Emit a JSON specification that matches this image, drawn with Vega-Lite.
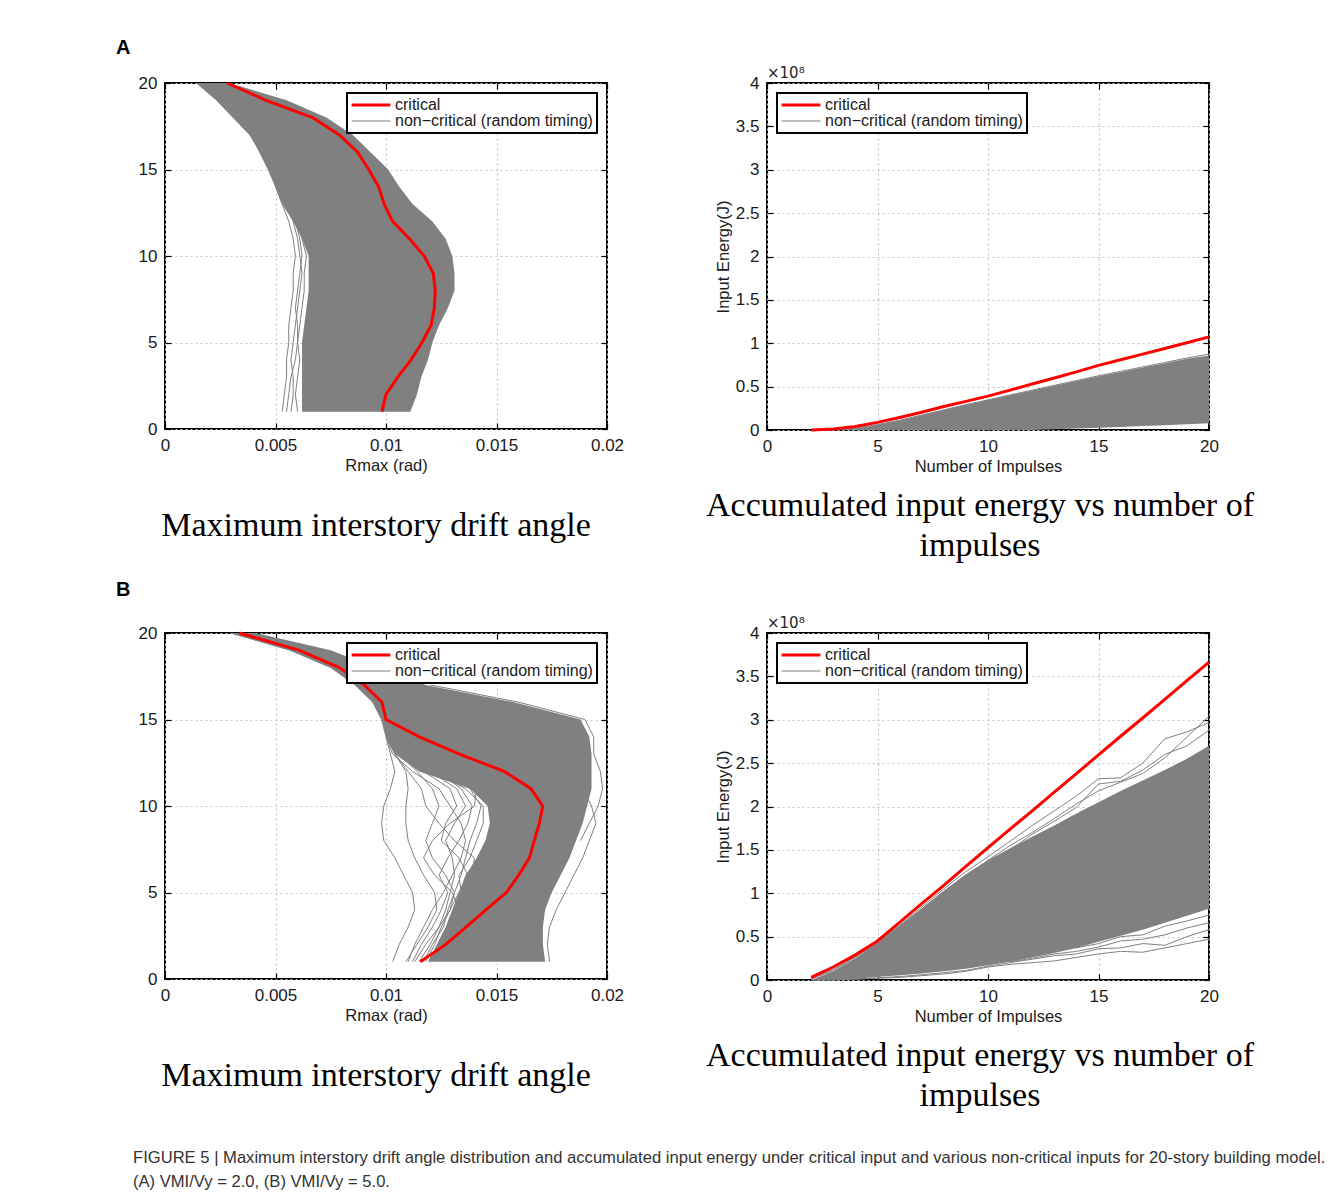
{
  "$schema": "https://vega.github.io/schema/vega-lite/v6.json",
  "background": "white",
  "padding": {"left": 116, "top": 38, "right": 5, "bottom": 5},
  "bounds": "flush",
  "spacing": 550,
  "title": {
    "text": ["FIGURE 5 | Maximum interstory drift angle distribution and accumulated input energy under critical input and various non-critical inputs for 20-story building model.", "(A) VMI/Vy = 2.0, (B) VMI/Vy = 5.0."],
    "orient": "bottom", "anchor": "start", "frame": "group", "dx": -32, "offset": 36,
    "font": "Liberation Sans", "fontSize": 16.6, "fontWeight": "normal", "color": "#333333", "lineHeight": 24
  },
  "datasets": {
    "bandA": [
      {"story": 1, "rmax": 0.0062, "rmax2": 0.0111},
      {"story": 2, "rmax": 0.0062, "rmax2": 0.0114},
      {"story": 3, "rmax": 0.0062, "rmax2": 0.0116},
      {"story": 4, "rmax": 0.0062, "rmax2": 0.0119},
      {"story": 5, "rmax": 0.0062, "rmax2": 0.0121},
      {"story": 6, "rmax": 0.0063, "rmax2": 0.0124},
      {"story": 7, "rmax": 0.0064, "rmax2": 0.0128},
      {"story": 8, "rmax": 0.0065, "rmax2": 0.0131},
      {"story": 9, "rmax": 0.0065, "rmax2": 0.0131},
      {"story": 10, "rmax": 0.0065, "rmax2": 0.013},
      {"story": 11, "rmax": 0.0062, "rmax2": 0.0127},
      {"story": 12, "rmax": 0.0058, "rmax2": 0.0121},
      {"story": 13, "rmax": 0.0053, "rmax2": 0.0112},
      {"story": 14, "rmax": 0.005, "rmax2": 0.0106},
      {"story": 15, "rmax": 0.00465, "rmax2": 0.0101},
      {"story": 16, "rmax": 0.00427, "rmax2": 0.0093},
      {"story": 17, "rmax": 0.00382, "rmax2": 0.0085},
      {"story": 18, "rmax": 0.00306, "rmax2": 0.0073},
      {"story": 19, "rmax": 0.00231, "rmax2": 0.0055},
      {"story": 20, "rmax": 0.0014, "rmax2": 0.0029}
    ],
    "linesA": [
      {"run": 1, "story": 1, "rmax": 0.0053}, {"run": 1, "story": 2, "rmax": 0.0054}, {"run": 1, "story": 3, "rmax": 0.0055}, {"run": 1, "story": 4, "rmax": 0.0055}, {"run": 1, "story": 5, "rmax": 0.0056}, {"run": 1, "story": 6, "rmax": 0.0056}, {"run": 1, "story": 7, "rmax": 0.0057}, {"run": 1, "story": 8, "rmax": 0.0058}, {"run": 1, "story": 9, "rmax": 0.0058}, {"run": 1, "story": 10, "rmax": 0.0059}, {"run": 1, "story": 11, "rmax": 0.0058}, {"run": 1, "story": 12, "rmax": 0.0056}, {"run": 1, "story": 13, "rmax": 0.0053}, {"run": 1, "story": 14, "rmax": 0.005}, {"run": 1, "story": 15, "rmax": 0.0047}, {"run": 1, "story": 16, "rmax": 0.0043}, {"run": 1, "story": 17, "rmax": 0.0039}, {"run": 1, "story": 18, "rmax": 0.0031}, {"run": 1, "story": 19, "rmax": 0.0024}, {"run": 1, "story": 20, "rmax": 0.0015},
      {"run": 2, "story": 1, "rmax": 0.0057}, {"run": 2, "story": 2, "rmax": 0.0058}, {"run": 2, "story": 3, "rmax": 0.0058}, {"run": 2, "story": 4, "rmax": 0.0057}, {"run": 2, "story": 5, "rmax": 0.0058}, {"run": 2, "story": 6, "rmax": 0.0059}, {"run": 2, "story": 7, "rmax": 0.006}, {"run": 2, "story": 8, "rmax": 0.0061}, {"run": 2, "story": 9, "rmax": 0.0062}, {"run": 2, "story": 10, "rmax": 0.0061}, {"run": 2, "story": 11, "rmax": 0.006}, {"run": 2, "story": 12, "rmax": 0.0058}, {"run": 2, "story": 13, "rmax": 0.0055}, {"run": 2, "story": 14, "rmax": 0.0052}, {"run": 2, "story": 15, "rmax": 0.0049},
      {"run": 3, "story": 1, "rmax": 0.006}, {"run": 3, "story": 2, "rmax": 0.0059}, {"run": 3, "story": 3, "rmax": 0.006}, {"run": 3, "story": 4, "rmax": 0.0061}, {"run": 3, "story": 5, "rmax": 0.006}, {"run": 3, "story": 6, "rmax": 0.0061}, {"run": 3, "story": 7, "rmax": 0.0062}, {"run": 3, "story": 8, "rmax": 0.0063}, {"run": 3, "story": 9, "rmax": 0.0063}, {"run": 3, "story": 10, "rmax": 0.0064}, {"run": 3, "story": 11, "rmax": 0.0062}, {"run": 3, "story": 12, "rmax": 0.006}, {"run": 3, "story": 13, "rmax": 0.0057}, {"run": 3, "story": 14, "rmax": 0.0054}, {"run": 3, "story": 15, "rmax": 0.005},
      {"run": 4, "story": 1, "rmax": 0.0055}, {"run": 4, "story": 2, "rmax": 0.0056}, {"run": 4, "story": 3, "rmax": 0.0057}, {"run": 4, "story": 4, "rmax": 0.0059}, {"run": 4, "story": 5, "rmax": 0.006}, {"run": 4, "story": 6, "rmax": 0.006}, {"run": 4, "story": 7, "rmax": 0.0059}, {"run": 4, "story": 8, "rmax": 0.006}, {"run": 4, "story": 9, "rmax": 0.0061}, {"run": 4, "story": 10, "rmax": 0.0062}, {"run": 4, "story": 11, "rmax": 0.0061}, {"run": 4, "story": 12, "rmax": 0.0059}, {"run": 4, "story": 13, "rmax": 0.0056}, {"run": 4, "story": 14, "rmax": 0.0053}, {"run": 4, "story": 15, "rmax": 0.0049}
    ],
    "redA": [
      {"story": 1, "rmax": 0.00982}, {"story": 2, "rmax": 0.01}, {"story": 3, "rmax": 0.01053}, {"story": 4, "rmax": 0.01113}, {"story": 5, "rmax": 0.01163}, {"story": 6, "rmax": 0.01204}, {"story": 7, "rmax": 0.01219}, {"story": 8, "rmax": 0.01223}, {"story": 9, "rmax": 0.01214}, {"story": 10, "rmax": 0.01173}, {"story": 11, "rmax": 0.01106}, {"story": 12, "rmax": 0.0103}, {"story": 13, "rmax": 0.00992}, {"story": 14, "rmax": 0.00967}, {"story": 15, "rmax": 0.00922}, {"story": 16, "rmax": 0.00872}, {"story": 17, "rmax": 0.00789}, {"story": 18, "rmax": 0.00668}, {"story": 19, "rmax": 0.00457}, {"story": 20, "rmax": 0.00281}
    ],
    "bandEA": [
      {"impulses": 2, "energy_e8": 0, "energy_low": 0}, {"impulses": 3, "energy_e8": 0.004, "energy_low": 0}, {"impulses": 4, "energy_e8": 0.02, "energy_low": 0}, {"impulses": 5, "energy_e8": 0.06, "energy_low": 0}, {"impulses": 6, "energy_e8": 0.11, "energy_low": 0}, {"impulses": 7, "energy_e8": 0.17, "energy_low": 0}, {"impulses": 8, "energy_e8": 0.23, "energy_low": 0}, {"impulses": 9, "energy_e8": 0.29, "energy_low": 0}, {"impulses": 10, "energy_e8": 0.345, "energy_low": 0}, {"impulses": 11, "energy_e8": 0.4, "energy_low": 0}, {"impulses": 12, "energy_e8": 0.455, "energy_low": 0}, {"impulses": 13, "energy_e8": 0.51, "energy_low": 0.008}, {"impulses": 14, "energy_e8": 0.565, "energy_low": 0.016}, {"impulses": 15, "energy_e8": 0.62, "energy_low": 0.026}, {"impulses": 16, "energy_e8": 0.67, "energy_low": 0.036}, {"impulses": 17, "energy_e8": 0.72, "energy_low": 0.046}, {"impulses": 18, "energy_e8": 0.77, "energy_low": 0.056}, {"impulses": 19, "energy_e8": 0.82, "energy_low": 0.066}, {"impulses": 20, "energy_e8": 0.86, "energy_low": 0.078}
    ],
    "linesEA": [
      {"run": 1, "impulses": 2, "energy_e8": 0}, {"run": 1, "impulses": 3, "energy_e8": 0.005}, {"run": 1, "impulses": 4, "energy_e8": 0.022}, {"run": 1, "impulses": 5, "energy_e8": 0.062}, {"run": 1, "impulses": 6, "energy_e8": 0.113}, {"run": 1, "impulses": 7, "energy_e8": 0.172}, {"run": 1, "impulses": 8, "energy_e8": 0.232}, {"run": 1, "impulses": 9, "energy_e8": 0.292}, {"run": 1, "impulses": 10, "energy_e8": 0.348}, {"run": 1, "impulses": 11, "energy_e8": 0.404}, {"run": 1, "impulses": 12, "energy_e8": 0.46}, {"run": 1, "impulses": 13, "energy_e8": 0.515}, {"run": 1, "impulses": 14, "energy_e8": 0.57}, {"run": 1, "impulses": 15, "energy_e8": 0.625}, {"run": 1, "impulses": 16, "energy_e8": 0.676}, {"run": 1, "impulses": 17, "energy_e8": 0.727}, {"run": 1, "impulses": 18, "energy_e8": 0.778}, {"run": 1, "impulses": 19, "energy_e8": 0.83}, {"run": 1, "impulses": 20, "energy_e8": 0.875}
    ],
    "redEA": [
      {"impulses": 2, "energy_e8": 0}, {"impulses": 3, "energy_e8": 0.012}, {"impulses": 4, "energy_e8": 0.04}, {"impulses": 5, "energy_e8": 0.088}, {"impulses": 6, "energy_e8": 0.145}, {"impulses": 7, "energy_e8": 0.205}, {"impulses": 8, "energy_e8": 0.27}, {"impulses": 9, "energy_e8": 0.33}, {"impulses": 10, "energy_e8": 0.39}, {"impulses": 11, "energy_e8": 0.46}, {"impulses": 12, "energy_e8": 0.53}, {"impulses": 13, "energy_e8": 0.6}, {"impulses": 14, "energy_e8": 0.67}, {"impulses": 15, "energy_e8": 0.745}, {"impulses": 16, "energy_e8": 0.81}, {"impulses": 17, "energy_e8": 0.875}, {"impulses": 18, "energy_e8": 0.94}, {"impulses": 19, "energy_e8": 1.005}, {"impulses": 20, "energy_e8": 1.073}
    ],
    "bandB": [
      {"story": 1, "rmax": 0.0119, "rmax2": 0.0172},
      {"story": 2, "rmax": 0.0123, "rmax2": 0.0171},
      {"story": 3, "rmax": 0.0127, "rmax2": 0.0171},
      {"story": 4, "rmax": 0.013, "rmax2": 0.0172},
      {"story": 5, "rmax": 0.0133, "rmax2": 0.0175},
      {"story": 6, "rmax": 0.0136, "rmax2": 0.0179},
      {"story": 7, "rmax": 0.0141, "rmax2": 0.0183},
      {"story": 8, "rmax": 0.0145, "rmax2": 0.0186},
      {"story": 9, "rmax": 0.0147, "rmax2": 0.0189},
      {"story": 10, "rmax": 0.0146, "rmax2": 0.0191},
      {"story": 11, "rmax": 0.0138, "rmax2": 0.0193},
      {"story": 12, "rmax": 0.0115, "rmax2": 0.0193},
      {"story": 13, "rmax": 0.0104, "rmax2": 0.0193},
      {"story": 14, "rmax": 0.01, "rmax2": 0.0192},
      {"story": 15, "rmax": 0.0098, "rmax2": 0.0188},
      {"story": 16, "rmax": 0.0094, "rmax2": 0.0158},
      {"story": 17, "rmax": 0.0086, "rmax2": 0.0118},
      {"story": 18, "rmax": 0.0075, "rmax2": 0.0095},
      {"story": 19, "rmax": 0.0056, "rmax2": 0.0075},
      {"story": 20, "rmax": 0.0029, "rmax2": 0.0041}
    ],
    "linesB": [
      {"run": 1, "story": 1, "rmax": 0.0103}, {"run": 1, "story": 2, "rmax": 0.0106}, {"run": 1, "story": 3, "rmax": 0.011}, {"run": 1, "story": 4, "rmax": 0.0113}, {"run": 1, "story": 5, "rmax": 0.0112}, {"run": 1, "story": 6, "rmax": 0.0108}, {"run": 1, "story": 7, "rmax": 0.0104}, {"run": 1, "story": 8, "rmax": 0.0099}, {"run": 1, "story": 9, "rmax": 0.0098}, {"run": 1, "story": 10, "rmax": 0.0099}, {"run": 1, "story": 11, "rmax": 0.0102}, {"run": 1, "story": 12, "rmax": 0.0104}, {"run": 1, "story": 13, "rmax": 0.0102}, {"run": 1, "story": 14, "rmax": 0.01}, {"run": 1, "story": 15, "rmax": 0.0098}, {"run": 1, "story": 16, "rmax": 0.0094}, {"run": 1, "story": 17, "rmax": 0.0086}, {"run": 1, "story": 18, "rmax": 0.0075}, {"run": 1, "story": 19, "rmax": 0.0057}, {"run": 1, "story": 20, "rmax": 0.003},
      {"run": 2, "story": 1, "rmax": 0.0109}, {"run": 2, "story": 2, "rmax": 0.0114}, {"run": 2, "story": 3, "rmax": 0.0119}, {"run": 2, "story": 4, "rmax": 0.0123}, {"run": 2, "story": 5, "rmax": 0.0122}, {"run": 2, "story": 6, "rmax": 0.0117}, {"run": 2, "story": 7, "rmax": 0.0113}, {"run": 2, "story": 8, "rmax": 0.011}, {"run": 2, "story": 9, "rmax": 0.0109}, {"run": 2, "story": 10, "rmax": 0.0109}, {"run": 2, "story": 11, "rmax": 0.011}, {"run": 2, "story": 12, "rmax": 0.0109}, {"run": 2, "story": 13, "rmax": 0.0104}, {"run": 2, "story": 14, "rmax": 0.0101},
      {"run": 3, "story": 1, "rmax": 0.0113}, {"run": 3, "story": 2, "rmax": 0.0118}, {"run": 3, "story": 3, "rmax": 0.0124}, {"run": 3, "story": 4, "rmax": 0.0129}, {"run": 3, "story": 5, "rmax": 0.0131}, {"run": 3, "story": 6, "rmax": 0.0127}, {"run": 3, "story": 7, "rmax": 0.0121}, {"run": 3, "story": 8, "rmax": 0.0118}, {"run": 3, "story": 9, "rmax": 0.0121}, {"run": 3, "story": 10, "rmax": 0.0124}, {"run": 3, "story": 11, "rmax": 0.0121}, {"run": 3, "story": 12, "rmax": 0.0114}, {"run": 3, "story": 13, "rmax": 0.0106}, {"run": 3, "story": 14, "rmax": 0.0101},
      {"run": 4, "story": 1, "rmax": 0.0115}, {"run": 4, "story": 2, "rmax": 0.012}, {"run": 4, "story": 3, "rmax": 0.0124}, {"run": 4, "story": 4, "rmax": 0.0127}, {"run": 4, "story": 5, "rmax": 0.0129}, {"run": 4, "story": 6, "rmax": 0.0131}, {"run": 4, "story": 7, "rmax": 0.013}, {"run": 4, "story": 8, "rmax": 0.0127}, {"run": 4, "story": 9, "rmax": 0.0131}, {"run": 4, "story": 10, "rmax": 0.0136}, {"run": 4, "story": 11, "rmax": 0.0132}, {"run": 4, "story": 12, "rmax": 0.012}, {"run": 4, "story": 13, "rmax": 0.011}, {"run": 4, "story": 14, "rmax": 0.0102},
      {"run": 5, "story": 1, "rmax": 0.0117}, {"run": 5, "story": 2, "rmax": 0.0121}, {"run": 5, "story": 3, "rmax": 0.0126}, {"run": 5, "story": 4, "rmax": 0.0128}, {"run": 5, "story": 5, "rmax": 0.0131}, {"run": 5, "story": 6, "rmax": 0.0134}, {"run": 5, "story": 7, "rmax": 0.0136}, {"run": 5, "story": 8, "rmax": 0.0138}, {"run": 5, "story": 9, "rmax": 0.0141}, {"run": 5, "story": 10, "rmax": 0.0143}, {"run": 5, "story": 11, "rmax": 0.0138}, {"run": 5, "story": 12, "rmax": 0.0125}, {"run": 5, "story": 13, "rmax": 0.0112}, {"run": 5, "story": 14, "rmax": 0.0103},
      {"run": 6, "story": 1, "rmax": 0.0112}, {"run": 6, "story": 2, "rmax": 0.0116}, {"run": 6, "story": 3, "rmax": 0.0121}, {"run": 6, "story": 4, "rmax": 0.0125}, {"run": 6, "story": 5, "rmax": 0.0128}, {"run": 6, "story": 6, "rmax": 0.0124}, {"run": 6, "story": 7, "rmax": 0.0128}, {"run": 6, "story": 8, "rmax": 0.0133}, {"run": 6, "story": 9, "rmax": 0.0137}, {"run": 6, "story": 10, "rmax": 0.0139}, {"run": 6, "story": 11, "rmax": 0.0134}, {"run": 6, "story": 12, "rmax": 0.0123}, {"run": 6, "story": 13, "rmax": 0.0108}, {"run": 6, "story": 14, "rmax": 0.0101},
      {"run": 7, "story": 1, "rmax": 0.0118}, {"run": 7, "story": 2, "rmax": 0.0122}, {"run": 7, "story": 3, "rmax": 0.0125}, {"run": 7, "story": 4, "rmax": 0.0129}, {"run": 7, "story": 5, "rmax": 0.0133}, {"run": 7, "story": 6, "rmax": 0.0137}, {"run": 7, "story": 7, "rmax": 0.0133}, {"run": 7, "story": 8, "rmax": 0.0125}, {"run": 7, "story": 9, "rmax": 0.0127}, {"run": 7, "story": 10, "rmax": 0.0132}, {"run": 7, "story": 11, "rmax": 0.0129}, {"run": 7, "story": 12, "rmax": 0.0117}, {"run": 7, "story": 13, "rmax": 0.0106}, {"run": 7, "story": 14, "rmax": 0.01},
      {"run": 8, "story": 8, "rmax": 0.0188}, {"run": 8, "story": 9, "rmax": 0.0192}, {"run": 8, "story": 10, "rmax": 0.0196}, {"run": 8, "story": 11, "rmax": 0.0198}, {"run": 8, "story": 12, "rmax": 0.0197}, {"run": 8, "story": 13, "rmax": 0.0194}, {"run": 8, "story": 14, "rmax": 0.0194}, {"run": 8, "story": 15, "rmax": 0.019}, {"run": 8, "story": 16, "rmax": 0.016}, {"run": 8, "story": 17, "rmax": 0.012},
      {"run": 9, "story": 1, "rmax": 0.0174}, {"run": 9, "story": 2, "rmax": 0.0173}, {"run": 9, "story": 3, "rmax": 0.0174}, {"run": 9, "story": 4, "rmax": 0.0177}, {"run": 9, "story": 5, "rmax": 0.0181}, {"run": 9, "story": 6, "rmax": 0.0185}, {"run": 9, "story": 7, "rmax": 0.0189}, {"run": 9, "story": 8, "rmax": 0.0192}, {"run": 9, "story": 9, "rmax": 0.0195}, {"run": 9, "story": 10, "rmax": 0.0193}, {"run": 9, "story": 11, "rmax": 0.0189}, {"run": 9, "story": 12, "rmax": 0.0186}, {"run": 9, "story": 13, "rmax": 0.018}, {"run": 9, "story": 14, "rmax": 0.017}, {"run": 9, "story": 15, "rmax": 0.015},
      {"run": 10, "story": 1, "rmax": 0.0121}, {"run": 10, "story": 2, "rmax": 0.0124}, {"run": 10, "story": 3, "rmax": 0.0128}, {"run": 10, "story": 4, "rmax": 0.0131}, {"run": 10, "story": 5, "rmax": 0.0134}, {"run": 10, "story": 6, "rmax": 0.0133}, {"run": 10, "story": 7, "rmax": 0.0138}, {"run": 10, "story": 8, "rmax": 0.0141}, {"run": 10, "story": 9, "rmax": 0.0144}, {"run": 10, "story": 10, "rmax": 0.0144}, {"run": 10, "story": 11, "rmax": 0.0136}, {"run": 10, "story": 12, "rmax": 0.0121}, {"run": 10, "story": 13, "rmax": 0.0107}, {"run": 10, "story": 14, "rmax": 0.0101},
      {"run": 11, "story": 1, "rmax": 0.011}, {"run": 11, "story": 2, "rmax": 0.0113}, {"run": 11, "story": 3, "rmax": 0.0117}, {"run": 11, "story": 4, "rmax": 0.0121}, {"run": 11, "story": 5, "rmax": 0.0126}, {"run": 11, "story": 6, "rmax": 0.013}, {"run": 11, "story": 7, "rmax": 0.0134}, {"run": 11, "story": 8, "rmax": 0.0136}, {"run": 11, "story": 9, "rmax": 0.0134}, {"run": 11, "story": 10, "rmax": 0.0129}, {"run": 11, "story": 11, "rmax": 0.0124}, {"run": 11, "story": 12, "rmax": 0.0112}, {"run": 11, "story": 13, "rmax": 0.0103}, {"run": 11, "story": 14, "rmax": 0.01},
      {"run": 12, "story": 4, "rmax": 0.0132}, {"run": 12, "story": 5, "rmax": 0.0136}, {"run": 12, "story": 6, "rmax": 0.0139}, {"run": 12, "story": 7, "rmax": 0.014}, {"run": 12, "story": 8, "rmax": 0.0131}, {"run": 12, "story": 9, "rmax": 0.0124}, {"run": 12, "story": 10, "rmax": 0.0118}, {"run": 12, "story": 11, "rmax": 0.0116}, {"run": 12, "story": 12, "rmax": 0.011}, {"run": 12, "story": 13, "rmax": 0.0104}, {"run": 12, "story": 14, "rmax": 0.01},
      {"run": 13, "story": 3, "rmax": 0.0129}, {"run": 13, "story": 4, "rmax": 0.0133}, {"run": 13, "story": 5, "rmax": 0.013}, {"run": 13, "story": 6, "rmax": 0.0122}, {"run": 13, "story": 7, "rmax": 0.0117}, {"run": 13, "story": 8, "rmax": 0.0121}, {"run": 13, "story": 9, "rmax": 0.0129}, {"run": 13, "story": 10, "rmax": 0.014}, {"run": 13, "story": 11, "rmax": 0.0141}, {"run": 13, "story": 12, "rmax": 0.0128}, {"run": 13, "story": 13, "rmax": 0.0112}
    ],
    "redB": [
      {"story": 1, "rmax": 0.01155}, {"story": 2, "rmax": 0.01271}, {"story": 3, "rmax": 0.01362}, {"story": 4, "rmax": 0.01452}, {"story": 5, "rmax": 0.01545}, {"story": 6, "rmax": 0.016}, {"story": 7, "rmax": 0.01649}, {"story": 8, "rmax": 0.01671}, {"story": 9, "rmax": 0.01694}, {"story": 10, "rmax": 0.01709}, {"story": 11, "rmax": 0.01656}, {"story": 12, "rmax": 0.01535}, {"story": 13, "rmax": 0.01332}, {"story": 14, "rmax": 0.01151}, {"story": 15, "rmax": 0.01}, {"story": 16, "rmax": 0.00982}, {"story": 17, "rmax": 0.00902}, {"story": 18, "rmax": 0.00789}, {"story": 19, "rmax": 0.00608}, {"story": 20, "rmax": 0.00336}
    ],
    "bandEB": [
      {"impulses": 2, "energy_e8": 0, "energy_low": 0}, {"impulses": 3, "energy_e8": 0.1, "energy_low": 0.003}, {"impulses": 4, "energy_e8": 0.25, "energy_low": 0.015}, {"impulses": 5, "energy_e8": 0.43, "energy_low": 0.035}, {"impulses": 6, "energy_e8": 0.62, "energy_low": 0.055}, {"impulses": 7, "energy_e8": 0.82, "energy_low": 0.075}, {"impulses": 8, "energy_e8": 1.03, "energy_low": 0.1}, {"impulses": 9, "energy_e8": 1.22, "energy_low": 0.13}, {"impulses": 10, "energy_e8": 1.38, "energy_low": 0.17}, {"impulses": 11, "energy_e8": 1.52, "energy_low": 0.21}, {"impulses": 12, "energy_e8": 1.65, "energy_low": 0.26}, {"impulses": 13, "energy_e8": 1.78, "energy_low": 0.31}, {"impulses": 14, "energy_e8": 1.92, "energy_low": 0.37}, {"impulses": 15, "energy_e8": 2.05, "energy_low": 0.44}, {"impulses": 16, "energy_e8": 2.18, "energy_low": 0.51}, {"impulses": 17, "energy_e8": 2.3, "energy_low": 0.58}, {"impulses": 18, "energy_e8": 2.42, "energy_low": 0.66}, {"impulses": 19, "energy_e8": 2.55, "energy_low": 0.74}, {"impulses": 20, "energy_e8": 2.7, "energy_low": 0.82}
    ],
    "linesEB": [
      {"run": 1, "impulses": 2, "energy_e8": 0.02}, {"run": 1, "impulses": 3, "energy_e8": 0.12}, {"run": 1, "impulses": 4, "energy_e8": 0.27}, {"run": 1, "impulses": 5, "energy_e8": 0.44}, {"run": 1, "impulses": 6, "energy_e8": 0.63}, {"run": 1, "impulses": 7, "energy_e8": 0.84}, {"run": 1, "impulses": 8, "energy_e8": 1.05}, {"run": 1, "impulses": 9, "energy_e8": 1.25}, {"run": 1, "impulses": 10, "energy_e8": 1.42}, {"run": 1, "impulses": 11, "energy_e8": 1.6}, {"run": 1, "impulses": 12, "energy_e8": 1.78}, {"run": 1, "impulses": 13, "energy_e8": 1.95}, {"run": 1, "impulses": 14, "energy_e8": 2.12}, {"run": 1, "impulses": 15, "energy_e8": 2.32}, {"run": 1, "impulses": 16, "energy_e8": 2.33}, {"run": 1, "impulses": 17, "energy_e8": 2.5}, {"run": 1, "impulses": 18, "energy_e8": 2.78}, {"run": 1, "impulses": 19, "energy_e8": 2.86}, {"run": 1, "impulses": 20, "energy_e8": 2.97},
      {"run": 2, "impulses": 2, "energy_e8": 0.01}, {"run": 2, "impulses": 3, "energy_e8": 0.11}, {"run": 2, "impulses": 4, "energy_e8": 0.26}, {"run": 2, "impulses": 5, "energy_e8": 0.43}, {"run": 2, "impulses": 6, "energy_e8": 0.62}, {"run": 2, "impulses": 7, "energy_e8": 0.82}, {"run": 2, "impulses": 8, "energy_e8": 1.02}, {"run": 2, "impulses": 9, "energy_e8": 1.2}, {"run": 2, "impulses": 10, "energy_e8": 1.38}, {"run": 2, "impulses": 11, "energy_e8": 1.55}, {"run": 2, "impulses": 12, "energy_e8": 1.7}, {"run": 2, "impulses": 13, "energy_e8": 1.86}, {"run": 2, "impulses": 14, "energy_e8": 2.03}, {"run": 2, "impulses": 15, "energy_e8": 2.18}, {"run": 2, "impulses": 16, "energy_e8": 2.28}, {"run": 2, "impulses": 17, "energy_e8": 2.38}, {"run": 2, "impulses": 18, "energy_e8": 2.56}, {"run": 2, "impulses": 19, "energy_e8": 2.8}, {"run": 2, "impulses": 20, "energy_e8": 3.04},
      {"run": 3, "impulses": 10, "energy_e8": 1.33}, {"run": 3, "impulses": 11, "energy_e8": 1.5}, {"run": 3, "impulses": 12, "energy_e8": 1.68}, {"run": 3, "impulses": 13, "energy_e8": 1.83}, {"run": 3, "impulses": 14, "energy_e8": 1.99}, {"run": 3, "impulses": 15, "energy_e8": 2.26}, {"run": 3, "impulses": 16, "energy_e8": 2.29}, {"run": 3, "impulses": 17, "energy_e8": 2.42}, {"run": 3, "impulses": 18, "energy_e8": 2.6}, {"run": 3, "impulses": 19, "energy_e8": 2.7}, {"run": 3, "impulses": 20, "energy_e8": 2.88},
      {"run": 4, "impulses": 2, "energy_e8": 0}, {"run": 4, "impulses": 3, "energy_e8": 0.002}, {"run": 4, "impulses": 4, "energy_e8": 0.01}, {"run": 4, "impulses": 5, "energy_e8": 0.02}, {"run": 4, "impulses": 6, "energy_e8": 0.03}, {"run": 4, "impulses": 7, "energy_e8": 0.05}, {"run": 4, "impulses": 8, "energy_e8": 0.07}, {"run": 4, "impulses": 9, "energy_e8": 0.1}, {"run": 4, "impulses": 10, "energy_e8": 0.15}, {"run": 4, "impulses": 11, "energy_e8": 0.18}, {"run": 4, "impulses": 12, "energy_e8": 0.2}, {"run": 4, "impulses": 13, "energy_e8": 0.22}, {"run": 4, "impulses": 14, "energy_e8": 0.26}, {"run": 4, "impulses": 15, "energy_e8": 0.3}, {"run": 4, "impulses": 16, "energy_e8": 0.33}, {"run": 4, "impulses": 17, "energy_e8": 0.32}, {"run": 4, "impulses": 18, "energy_e8": 0.37}, {"run": 4, "impulses": 19, "energy_e8": 0.42}, {"run": 4, "impulses": 20, "energy_e8": 0.47},
      {"run": 5, "impulses": 2, "energy_e8": 0}, {"run": 5, "impulses": 3, "energy_e8": 0.003}, {"run": 5, "impulses": 4, "energy_e8": 0.012}, {"run": 5, "impulses": 5, "energy_e8": 0.025}, {"run": 5, "impulses": 6, "energy_e8": 0.04}, {"run": 5, "impulses": 7, "energy_e8": 0.06}, {"run": 5, "impulses": 8, "energy_e8": 0.085}, {"run": 5, "impulses": 9, "energy_e8": 0.11}, {"run": 5, "impulses": 10, "energy_e8": 0.16}, {"run": 5, "impulses": 11, "energy_e8": 0.2}, {"run": 5, "impulses": 12, "energy_e8": 0.24}, {"run": 5, "impulses": 13, "energy_e8": 0.28}, {"run": 5, "impulses": 14, "energy_e8": 0.3}, {"run": 5, "impulses": 15, "energy_e8": 0.36}, {"run": 5, "impulses": 16, "energy_e8": 0.37}, {"run": 5, "impulses": 17, "energy_e8": 0.42}, {"run": 5, "impulses": 18, "energy_e8": 0.4}, {"run": 5, "impulses": 19, "energy_e8": 0.5}, {"run": 5, "impulses": 20, "energy_e8": 0.58},
      {"run": 6, "impulses": 11, "energy_e8": 0.21}, {"run": 6, "impulses": 12, "energy_e8": 0.25}, {"run": 6, "impulses": 13, "energy_e8": 0.3}, {"run": 6, "impulses": 14, "energy_e8": 0.33}, {"run": 6, "impulses": 15, "energy_e8": 0.38}, {"run": 6, "impulses": 16, "energy_e8": 0.45}, {"run": 6, "impulses": 17, "energy_e8": 0.47}, {"run": 6, "impulses": 18, "energy_e8": 0.52}, {"run": 6, "impulses": 19, "energy_e8": 0.6}, {"run": 6, "impulses": 20, "energy_e8": 0.66},
      {"run": 7, "impulses": 14, "energy_e8": 0.37}, {"run": 7, "impulses": 15, "energy_e8": 0.42}, {"run": 7, "impulses": 16, "energy_e8": 0.5}, {"run": 7, "impulses": 17, "energy_e8": 0.52}, {"run": 7, "impulses": 18, "energy_e8": 0.62}, {"run": 7, "impulses": 19, "energy_e8": 0.68}, {"run": 7, "impulses": 20, "energy_e8": 0.75}
    ],
    "redEB": [
      {"impulses": 2, "energy_e8": 0.03}, {"impulses": 3, "energy_e8": 0.15}, {"impulses": 4, "energy_e8": 0.29}, {"impulses": 5, "energy_e8": 0.45}, {"impulses": 6, "energy_e8": 0.665}, {"impulses": 7, "energy_e8": 0.88}, {"impulses": 8, "energy_e8": 1.09}, {"impulses": 9, "energy_e8": 1.31}, {"impulses": 10, "energy_e8": 1.525}, {"impulses": 11, "energy_e8": 1.74}, {"impulses": 12, "energy_e8": 1.95}, {"impulses": 13, "energy_e8": 2.165}, {"impulses": 14, "energy_e8": 2.38}, {"impulses": 15, "energy_e8": 2.595}, {"impulses": 16, "energy_e8": 2.81}, {"impulses": 17, "energy_e8": 3.02}, {"impulses": 18, "energy_e8": 3.235}, {"impulses": 19, "energy_e8": 3.45}, {"impulses": 20, "energy_e8": 3.665}
    ]
  },
  "vconcat": [
    {
      "title": {"text": "A", "anchor": "start", "frame": "group", "dx": -49, "offset": 7, "font": "Liberation Sans", "fontSize": 20, "fontWeight": "bold", "color": "black"},
      "bounds": "flush",
      "spacing": 160,
      "hconcat": [
        {
          "width": 442, "height": 346,
          "title": {"text": "Maximum interstory drift angle", "orient": "bottom", "anchor": "middle", "frame": "group", "dx": -10, "offset": 35, "font": "Liberation Serif", "fontSize": 34, "fontWeight": "normal", "color": "black"},
          "layer": [
            {
              "data": {"name": "bandA"},
              "mark": {"type": "area", "orient": "horizontal", "color": "#808080", "opacity": 1},
              "encoding": {
                "y": {"field": "story", "type": "quantitative", "scale": {"domain": [0, 20], "nice": false}, "axis": {"orient": "left", "title": null, "values": [0, 5, 10, 15, 20], "grid": true}},
                "x": {"field": "rmax", "type": "quantitative", "scale": {"domain": [0, 0.02], "nice": false}, "axis": {"orient": "bottom", "title": "Rmax (rad)", "values": [0, 0.005, 0.01, 0.015, 0.02], "labelExpr": "'' + datum.value", "grid": true}},
                "x2": {"field": "rmax2"}
              }
            },
            {
              "data": {"name": "linesA"},
              "mark": {"type": "line", "strokeWidth": 1},
              "encoding": {
                "y": {"field": "story", "type": "quantitative", "axis": null},
                "x": {"field": "rmax", "type": "quantitative", "axis": null},
                "detail": {"field": "run", "type": "nominal"},
                "order": {"field": "story", "type": "quantitative"},
                "color": {"datum": "non−critical (random timing)", "type": "nominal", "scale": {"domain": ["critical", "non−critical (random timing)"], "range": ["#ff0000", "#808080"]},
                  "legend": {"orient": "top-right", "encode": {"legend": {"update": {"strokeWidth": {"value": 2}}}, "symbols": {"update": {"strokeWidth": {"signal": "datum.value === 'critical' ? 3 : 1.2"}}}}}}
              }
            },
            {
              "data": {"name": "redA"},
              "mark": {"type": "line", "strokeWidth": 3},
              "encoding": {
                "y": {"field": "story", "type": "quantitative", "axis": {"orient": "right", "title": null, "labels": false, "grid": false, "values": [0, 5, 10, 15, 20]}},
                "x": {"field": "rmax", "type": "quantitative", "axis": {"orient": "top", "title": null, "labels": false, "grid": false, "values": [0, 0.005, 0.01, 0.015, 0.02]}},
                "order": {"field": "story", "type": "quantitative"},
                "color": {"datum": "critical", "type": "nominal"}
              }
            }
          ],
          "resolve": {"axis": {"x": "independent", "y": "independent"}}
        },
        {
          "width": 442, "height": 347,
          "title": {"text": ["Accumulated input energy vs number of", "impulses"], "orient": "bottom", "anchor": "middle", "frame": "group", "dx": -8, "offset": 14, "lineHeight": 40, "font": "Liberation Serif", "fontSize": 34, "fontWeight": "normal", "color": "black"},
          "layer": [
            {
              "data": {"name": "bandEA"},
              "mark": {"type": "area", "color": "#808080", "opacity": 1},
              "encoding": {
                "x": {"field": "impulses", "type": "quantitative", "scale": {"domain": [0, 20], "nice": false}, "axis": {"orient": "bottom", "title": "Number of Impulses", "values": [0, 5, 10, 15, 20], "grid": true}},
                "y": {"field": "energy_e8", "type": "quantitative", "scale": {"domain": [0, 4], "nice": false}, "axis": {"orient": "left", "title": "Input Energy(J)", "values": [0, 0.5, 1, 1.5, 2, 2.5, 3, 3.5, 4], "labelExpr": "'' + datum.value", "grid": true}},
                "y2": {"field": "energy_low"}
              }
            },
            {
              "data": {"name": "linesEA"},
              "mark": {"type": "line", "strokeWidth": 1},
              "encoding": {
                "x": {"field": "impulses", "type": "quantitative", "axis": null},
                "y": {"field": "energy_e8", "type": "quantitative", "axis": null},
                "detail": {"field": "run", "type": "nominal"},
                "color": {"datum": "non−critical (random timing)", "type": "nominal", "scale": {"domain": ["critical", "non−critical (random timing)"], "range": ["#ff0000", "#808080"]},
                  "legend": {"orient": "top-left", "encode": {"legend": {"update": {"strokeWidth": {"value": 2}}}, "symbols": {"update": {"strokeWidth": {"signal": "datum.value === 'critical' ? 3 : 1.2"}}}}}}
              }
            },
            {
              "data": {"name": "redEA"},
              "mark": {"type": "line", "strokeWidth": 3},
              "encoding": {
                "x": {"field": "impulses", "type": "quantitative", "axis": {"orient": "top", "title": null, "labels": false, "grid": false, "values": [0, 5, 10, 15, 20]}},
                "y": {"field": "energy_e8", "type": "quantitative", "axis": {"orient": "right", "title": null, "labels": false, "grid": false, "values": [0, 0.5, 1, 1.5, 2, 2.5, 3, 3.5, 4]}},
                "color": {"datum": "critical", "type": "nominal"}
              }
            },
            {
              "data": {"values": [{"impulses": 0, "energy_e8": 4, "label": "×10⁸"}]},
              "mark": {"type": "text", "align": "left", "baseline": "bottom", "dy": -2, "font": "DejaVu Sans", "fontSize": 15, "color": "#262626"},
              "encoding": {
                "x": {"field": "impulses", "type": "quantitative", "axis": null},
                "y": {"field": "energy_e8", "type": "quantitative", "axis": null},
                "text": {"field": "label"}
              }
            }
          ],
          "resolve": {"axis": {"x": "independent", "y": "independent"}}
        }
      ]
    },
    {
      "title": {"text": "B", "anchor": "start", "frame": "group", "dx": -49, "offset": 15, "font": "Liberation Sans", "fontSize": 20, "fontWeight": "bold", "color": "black"},
      "bounds": "flush",
      "spacing": 160,
      "hconcat": [
        {
          "width": 442, "height": 346,
          "title": {"text": "Maximum interstory drift angle", "orient": "bottom", "anchor": "middle", "frame": "group", "dx": -10, "offset": 35, "font": "Liberation Serif", "fontSize": 34, "fontWeight": "normal", "color": "black"},
          "layer": [
            {
              "data": {"name": "bandB"},
              "mark": {"type": "area", "orient": "horizontal", "color": "#808080", "opacity": 1},
              "encoding": {
                "y": {"field": "story", "type": "quantitative", "scale": {"domain": [0, 20], "nice": false}, "axis": {"orient": "left", "title": null, "values": [0, 5, 10, 15, 20], "grid": true}},
                "x": {"field": "rmax", "type": "quantitative", "scale": {"domain": [0, 0.02], "nice": false}, "axis": {"orient": "bottom", "title": "Rmax (rad)", "values": [0, 0.005, 0.01, 0.015, 0.02], "labelExpr": "'' + datum.value", "grid": true}},
                "x2": {"field": "rmax2"}
              }
            },
            {
              "data": {"name": "linesB"},
              "mark": {"type": "line", "strokeWidth": 1},
              "encoding": {
                "y": {"field": "story", "type": "quantitative", "axis": null},
                "x": {"field": "rmax", "type": "quantitative", "axis": null},
                "detail": {"field": "run", "type": "nominal"},
                "order": {"field": "story", "type": "quantitative"},
                "color": {"datum": "non−critical (random timing)", "type": "nominal", "scale": {"domain": ["critical", "non−critical (random timing)"], "range": ["#ff0000", "#808080"]},
                  "legend": {"orient": "top-right", "encode": {"legend": {"update": {"strokeWidth": {"value": 2}}}, "symbols": {"update": {"strokeWidth": {"signal": "datum.value === 'critical' ? 3 : 1.2"}}}}}}
              }
            },
            {
              "data": {"name": "redB"},
              "mark": {"type": "line", "strokeWidth": 3},
              "encoding": {
                "y": {"field": "story", "type": "quantitative", "axis": {"orient": "right", "title": null, "labels": false, "grid": false, "values": [0, 5, 10, 15, 20]}},
                "x": {"field": "rmax", "type": "quantitative", "axis": {"orient": "top", "title": null, "labels": false, "grid": false, "values": [0, 0.005, 0.01, 0.015, 0.02]}},
                "order": {"field": "story", "type": "quantitative"},
                "color": {"datum": "critical", "type": "nominal"}
              }
            }
          ],
          "resolve": {"axis": {"x": "independent", "y": "independent"}}
        },
        {
          "width": 442, "height": 347,
          "title": {"text": ["Accumulated input energy vs number of", "impulses"], "orient": "bottom", "anchor": "middle", "frame": "group", "dx": -8, "offset": 14, "lineHeight": 40, "font": "Liberation Serif", "fontSize": 34, "fontWeight": "normal", "color": "black"},
          "layer": [
            {
              "data": {"name": "bandEB"},
              "mark": {"type": "area", "color": "#808080", "opacity": 1},
              "encoding": {
                "x": {"field": "impulses", "type": "quantitative", "scale": {"domain": [0, 20], "nice": false}, "axis": {"orient": "bottom", "title": "Number of Impulses", "values": [0, 5, 10, 15, 20], "grid": true}},
                "y": {"field": "energy_e8", "type": "quantitative", "scale": {"domain": [0, 4], "nice": false}, "axis": {"orient": "left", "title": "Input Energy(J)", "values": [0, 0.5, 1, 1.5, 2, 2.5, 3, 3.5, 4], "labelExpr": "'' + datum.value", "grid": true}},
                "y2": {"field": "energy_low"}
              }
            },
            {
              "data": {"name": "linesEB"},
              "mark": {"type": "line", "strokeWidth": 1},
              "encoding": {
                "x": {"field": "impulses", "type": "quantitative", "axis": null},
                "y": {"field": "energy_e8", "type": "quantitative", "axis": null},
                "detail": {"field": "run", "type": "nominal"},
                "color": {"datum": "non−critical (random timing)", "type": "nominal", "scale": {"domain": ["critical", "non−critical (random timing)"], "range": ["#ff0000", "#808080"]},
                  "legend": {"orient": "top-left", "encode": {"legend": {"update": {"strokeWidth": {"value": 2}}}, "symbols": {"update": {"strokeWidth": {"signal": "datum.value === 'critical' ? 3 : 1.2"}}}}}}
              }
            },
            {
              "data": {"name": "redEB"},
              "mark": {"type": "line", "strokeWidth": 3},
              "encoding": {
                "x": {"field": "impulses", "type": "quantitative", "axis": {"orient": "top", "title": null, "labels": false, "grid": false, "values": [0, 5, 10, 15, 20]}},
                "y": {"field": "energy_e8", "type": "quantitative", "axis": {"orient": "right", "title": null, "labels": false, "grid": false, "values": [0, 0.5, 1, 1.5, 2, 2.5, 3, 3.5, 4]}},
                "color": {"datum": "critical", "type": "nominal"}
              }
            },
            {
              "data": {"values": [{"impulses": 0, "energy_e8": 4, "label": "×10⁸"}]},
              "mark": {"type": "text", "align": "left", "baseline": "bottom", "dy": -2, "font": "DejaVu Sans", "fontSize": 15, "color": "#262626"},
              "encoding": {
                "x": {"field": "impulses", "type": "quantitative", "axis": null},
                "y": {"field": "energy_e8", "type": "quantitative", "axis": null},
                "text": {"field": "label"}
              }
            }
          ],
          "resolve": {"axis": {"x": "independent", "y": "independent"}}
        }
      ]
    }
  ],
  "config": {
    "view": {"stroke": "black", "strokeWidth": 2},
    "font": "Liberation Sans",
    "axis": {
      "labelFont": "Liberation Sans", "labelFontSize": 17, "labelColor": "#1a1a1a", "labelFlush": false,
      "titleFont": "Liberation Sans", "titleFontSize": 16.5, "titleFontWeight": "normal", "titleColor": "#1a1a1a",
      "domain": false, "tickColor": "black", "tickWidth": 1.2, "tickSize": -6, "labelPadding": 14,
      "gridColor": "#c4c4c4", "gridDash": [2, 3], "gridWidth": 1.2
    },
    "legend": {
      "title": null, "offset": 10, "symbolType": "stroke", "symbolSize": 1500, "symbolStrokeWidth": 1.2, "symbolOffset": 12,
      "labelFont": "Liberation Sans", "labelFontSize": 16, "labelColor": "#1a1a1a", "labelOffset": 16, "labelLimit": 400,
      "padding": 4, "rowPadding": 0, "fillColor": "white", "strokeColor": "black"
    }
  }
}
